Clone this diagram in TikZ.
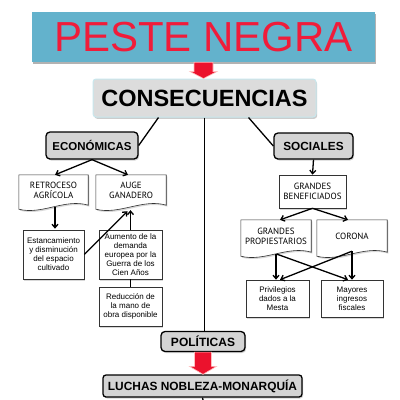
\documentclass[tikz,border=0pt]{standalone}
\usepackage{fontspec}
\setmainfont{Liberation Sans}
\newfontfamily\gillfont{PT Sans}
\usetikzlibrary{arrows.meta,shadows,calc}
\definecolor{tealbox}{RGB}{99,178,204}
\definecolor{titlered}{RGB}{240,28,58}
\definecolor{headgray}{RGB}{212,212,212}
\definecolor{consgray}{RGB}{220,220,220}
\definecolor{consedge}{RGB}{200,232,238}
\definecolor{arrowred}{RGB}{235,18,45}
\pgfdeclarelayer{bg}
\pgfsetlayers{bg,main}
\newcommand\docpath[1]{(#1.north west) -- (#1.north east) -- (#1.south east) .. controls ($(#1.south east)+(-23,-7)$) and ($(#1.south west)+(23,10)$) .. ($(#1.south west)+(0,4)$) -- cycle}
\begin{document}
\begin{tikzpicture}[x=1pt,y=-1pt,
  conn/.style={line width=1.3pt, draw=black},
  arr/.style={conn, -{Straight Barb[length=3.5pt,width=6pt]}},
  headbox/.style={draw=black, line width=1.3pt, fill=headgray, rounded corners=4pt,
    font=\bfseries\fontsize{11.8}{12}\selectfont, inner sep=0pt,
    drop shadow={shadow xshift=1.2pt, shadow yshift=-1.5pt, opacity=.35}},
  smallbox/.style={draw=black!80, line width=0.6pt, fill=white, align=center, inner sep=0pt,
    font=\fontsize{8}{9}\selectfont,
    drop shadow={shadow xshift=1.2pt, shadow yshift=-1.5pt, opacity=.3}},
  docbox/.style={align=center, inner sep=0pt, font=\gillfont\fontsize{9}{10}\selectfont},
  docline/.style={draw=black!80, line width=0.6pt, fill=white,
    drop shadow={shadow xshift=1.2pt, shadow yshift=-1.5pt, opacity=.3}},
  redarrow/.style={fill=arrowred, draw=red!25, line width=0.6pt}
]
\useasboundingbox (0,0) rectangle (400,400);

% title
\node[fill=tealbox, minimum width=343pt, minimum height=50pt, inner sep=0pt,
  text=titlered, font=\fontsize{42}{42}\selectfont,
  drop shadow={shadow xshift=0.8pt, shadow yshift=-2pt, opacity=.6}]
  (peste) at (203.5,37) {PESTE NEGRA};

\node[fill=consgray, draw=consedge, line width=1pt, rounded corners=3pt,
  minimum width=223pt, minimum height=38pt, inner sep=0pt,
  font=\bfseries\fontsize{23.5}{24}\selectfont,
  drop shadow={shadow xshift=1.2pt, shadow yshift=-1.8pt, opacity=.4}]
  (cons) at (204.5,98) {CONSECUENCIAS};

% headings
\node[headbox, minimum width=92pt, minimum height=27pt, font=\bfseries\fontsize{11.5}{12}\selectfont] (econ) at (92,145.5) {ECONÓMICAS};
\node[headbox, minimum width=79pt, minimum height=26pt] (soc) at (313.5,146) {SOCIALES};
\node[headbox, minimum width=84pt, minimum height=20pt, font=\bfseries\fontsize{12}{12}\selectfont] (pol) at (203,341.5) {POLÍTICAS};
\node[headbox, rounded corners=3pt, minimum width=199pt, minimum height=22pt, font=\bfseries\fontsize{11.9}{12}\selectfont] (luchas) at (202.5,386) {LUCHAS NOBLEZA-MONARQUÍA};

% economic branch
\node[docbox, minimum width=69pt, minimum height=30pt] (retro) at (53.5,190) {RETROCESO\\AGRÍCOLA};
\node[docbox, minimum width=70pt, minimum height=30pt] (auge) at (131,190) {AUGE\\GANADERO};
\node[smallbox, minimum width=61pt, minimum height=49pt] (estanc) at (53.5,254.5) {Estancamiento\\y disminución\\del espacio\\cultivado};
\node[smallbox, minimum width=63pt, minimum height=49pt] (aumento) at (130.5,254.5) {Aumento de la\\demanda\\europea por la\\Guerra de los\\Cien Años};
\node[smallbox, minimum width=63pt, minimum height=39pt] (reduc) at (130.5,306.5) {Reducción de\\la mano de\\obra disponible};

% social branch
\node[smallbox, font=\gillfont\fontsize{9}{10}\selectfont, minimum width=67pt, minimum height=33pt] (benef) at (312.5,191.5) {GRANDES\\BENEFICIADOS};
\node[docbox, minimum width=70pt, minimum height=32pt] (prop) at (276,236) {GRANDES\\PROPIESTARIOS};
\node[docbox, minimum width=70pt, minimum height=32pt] (corona) at (352,236) {CORONA};
\node[smallbox, minimum width=63pt, minimum height=37pt] (priv) at (277.5,298.5) {Privilegios\\dados a la\\Mesta};
\node[smallbox, minimum width=62pt, minimum height=37pt] (mayor) at (352,298.5) {Mayores\\ingresos\\fiscales};

\coordinate (bottom) at (203,400);

\begin{pgfonlayer}{bg}
  \fill[white] (0,0) rectangle (400,400);
  \path[docline] \docpath{retro};
  \path[docline] \docpath{auge};
  \path[docline] \docpath{prop};
  \path[docline] \docpath{corona};
\end{pgfonlayer}

% red block arrows
\filldraw[redarrow] let \p1=(peste.south), \p2=(cons.north) in
  (\x1-9.5pt,\y1) -- (\x1+9.5pt,\y1) -- (\x1+9.5pt,\y2+7pt) -- (\x1+13.5pt,\y2+7pt)
  -- (\x1,\y2) -- (\x1-13.5pt,\y2+7pt) -- (\x1-9.5pt,\y2+7pt) -- cycle;
\filldraw[redarrow] let \p1=(pol.south), \p2=(luchas.north) in
  (\x1-8.5pt,\y1) -- (\x1+8.5pt,\y1) -- (\x1+8.5pt,\y2+8pt) -- (\x1+13.5pt,\y2+8pt)
  -- (\x1,\y2) -- (\x1-13.5pt,\y2+8pt) -- (\x1-8.5pt,\y2+8pt) -- cycle;

% connectors
\draw[conn] ($(cons.south)+(-46,0)$) -- (econ.east);
\draw[conn] ($(cons.south)+(44,0)$) -- (soc.west);
\draw[conn] (cons.south) -- (cons.south |- pol.north);
\draw[conn] (luchas.south) -- (bottom);

\draw[arr] (econ.south) -- ($(retro.north)+(1.5,0)$);
\draw[arr] (econ.south) -- ($(auge.north)+(-3,0)$);
\draw[arr] ($(retro.south)+(1.5,2)$) -- ($(estanc.north)+(1.5,-1)$);
\draw[arr] (aumento.north) -- ($(auge.south)+(-0.5,5)$);
\draw[arr] (estanc.east) -- ($(auge.south)+(-3.5,6)$);
\draw[conn] (aumento.south) -- (reduc.north);

\draw[arr] (soc.south) -- (benef.north);
\draw[arr] (benef.south) -- ($(prop.north)+(4,0)$);
\draw[arr] (benef.south) -- ($(corona.north)+(-4,0)$);
\draw[arr] ($(prop.south)+(0,2)$) -- (prop.south |- priv.north);
\draw[arr] ($(prop.south)+(1,2)$) -- ($(mayor.north)+(-4,0)$);
\draw[arr] ($(corona.south)+(0,-1)$) -- ($(priv.north)+(2.5,0)$);
\draw[arr] ($(corona.south)+(0,-1)$) -- (corona.south |- mayor.north);
\end{tikzpicture}
\end{document}
